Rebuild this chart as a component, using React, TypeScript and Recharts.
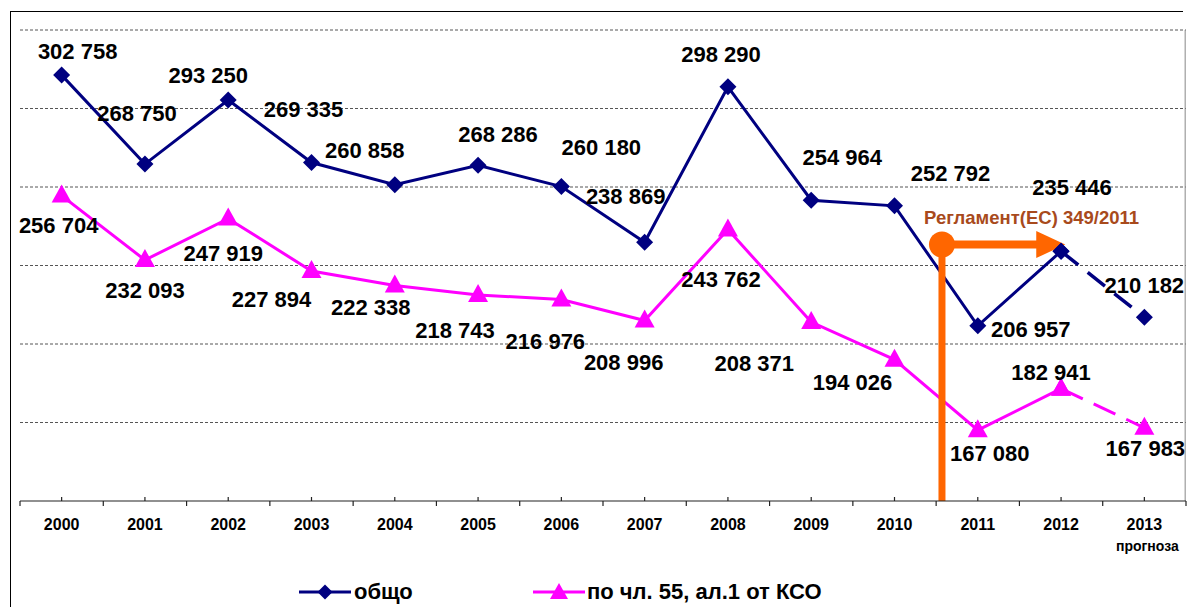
import React from "react";
import { LineChart, Line, XAxis, YAxis, ReferenceLine, ReferenceDot } from "recharts";

// values
const years = [2000, 2001, 2002, 2003, 2004, 2005, 2006, 2007, 2008, 2009, 2010, 2011, 2012, 2013];
const totalValues = [302758, 268750, 293250, 269335, 260858, 268286, 260180, 238869, 298290, 254964, 252792, 206957, 235446, 210182];
const art55Values = [256704, 232093, 247919, 227894, 222338, 218743, 216976, 208996, 243762, 208371, 194026, 167080, 182941, 167983];
const seriesNames = ["общо", "по чл. 55, ал.1 от КСО"];
const lastActualYear = 2012;
const forecastNote = "прогноза";
const yTicks = [140000, 170000, 200000, 230000, 260000, 290000, 320000];

const regulationText = "Регламент(ЕС) 349/2011";
const regulationYear = 2010.57;
const regulationLevel = 238000;
const regulationArrowTo = 2012.05;

// label placement (dx, dy from the point), styling only
const totalLabelOffsets = [
  [16, -24], [-8, -51], [-20, -24], [-8, -53], [-30, -34], [20, -31], [40, -39],
  [-19, -46], [-7, -32], [31, -43], [56, -32], [53, 4], [11, -64], [0, -32],
];
const art55LabelOffsets = [
  [-3, 30], [0, 30], [-5, 35], [-40, 28], [-24, 22], [-23, 36], [-16, 42],
  [-21, 42], [-7, 50], [-57, 41], [-42, 23], [12, 23], [-10, -16], [1, 21],
];

const NAVY = "#000080";
const PINK = "#FF00FF";
const ORANGE = "#FF6600";
const FONT = "'Liberation Sans', Arial, sans-serif";

const data = years.map((year, i) => ({
  year,
  total: year <= lastActualYear ? totalValues[i] : null,
  totalForecast: year >= lastActualYear ? totalValues[i] : null,
  art55: year <= lastActualYear ? art55Values[i] : null,
  art55Forecast: year >= lastActualYear ? art55Values[i] : null,
}));

const xTicks = [...years.map((y) => y - 0.5), ...years, years[years.length - 1] + 0.5].sort((a, b) => a - b);

const fmt = (v: number) => String(v).replace(/\B(?=(\d{3})+(?!\d))/g, " ");

const diamondDot = (props: any) => {
  const { cx, cy, index, value } = props;
  if (value == null || cx == null || cy == null) return <g key={`d${index}`} />;
  const r = 8.5;
  return (
    <polygon key={`d${index}`} points={`${cx},${cy - r} ${cx + r},${cy} ${cx},${cy + r} ${cx - r},${cy}`} fill={NAVY} />
  );
};

const triangleDot = (props: any) => {
  const { cx, cy, index, value } = props;
  if (value == null || cx == null || cy == null) return <g key={`t${index}`} />;
  return (
    <polygon key={`t${index}`} points={`${cx},${cy - 11} ${cx + 10},${cy + 7} ${cx - 10},${cy + 7}`} fill={PINK} />
  );
};

const makeLabel = (offsets: number[][], onlyForecast: boolean) => (props: any) => {
  const { x, y, index, value } = props;
  if (value == null || x == null || y == null) return null;
  if (onlyForecast && years[index] <= lastActualYear) return null;
  const [dx, dy] = offsets[index];
  return (
    <text
      key={`l${index}`}
      x={x + dx}
      y={y + dy}
      textAnchor="middle"
      dominantBaseline="central"
      fontFamily={FONT}
      fontWeight="bold"
      fontSize={22}
      fill="#000"
    >
      {fmt(value)}
    </text>
  );
};

const YearTick = (props: any) => {
  const { x, y, payload } = props;
  const v = payload.value;
  if (!Number.isInteger(v)) {
    return <line x1={x} y1={y} x2={x} y2={y + 5} stroke="#222" strokeWidth={1.2} />;
  }
  return (
    <g>
      <line x1={x} y1={y} x2={x} y2={y - 4} stroke="#222" strokeWidth={1.2} />
      <text x={x} y={y + 23} textAnchor="middle" dominantBaseline="central" fontFamily={FONT} fontWeight="bold" fontSize={16} fill="#000">
        {v}
      </text>
      {v === years[years.length - 1] && (
        <text x={x + 3} y={y + 45} textAnchor="middle" dominantBaseline="central" fontFamily={FONT} fontWeight="bold" fontSize={14} fill="#000">
          {forecastNote}
        </text>
      )}
    </g>
  );
};

const ArrowShape = (props: any) => {
  const { x1, y1, x2, y2 } = props;
  return (
    <g>
      <line x1={x1} y1={y1} x2={x2 - 26} y2={y2} stroke={ORANGE} strokeWidth={8} />
      <polygon points={`${x2 - 29},${y2 - 13.5} ${x2},${y2} ${x2 - 29},${y2 + 13.5}`} fill={ORANGE} />
      <text
        x={(x1 + x2) / 2 + 28}
        y={y1 - 27}
        textAnchor="middle"
        dominantBaseline="central"
        fontFamily={FONT}
        fontWeight="bold"
        fontSize={18.5}
        fill="#A84A1C"
      >
        {regulationText}
      </text>
    </g>
  );
};

const LegendItem = ({ left, textLeft, color, marker, name }: any) => (
  <>
    <svg style={{ position: "absolute", left, top: 580 }} width={54} height={24}>
      <line x1={0} y1={12} x2={52} y2={12} stroke={color} strokeWidth={3} />
      {marker === "diamond" ? (
        <polygon points="26,4.5 33.5,12 26,19.5 18.5,12" fill={color} />
      ) : (
        <polygon points="26,3 35,19 17,19" fill={color} />
      )}
    </svg>
    <div
      style={{
        position: "absolute",
        left: textLeft,
        top: 579,
        fontFamily: FONT,
        fontWeight: "bold",
        fontSize: 22,
        lineHeight: "26px",
        whiteSpace: "nowrap",
        color: "#000",
      }}
    >
      {name}
    </div>
  </>
);

export default function App() {
  return (
    <div style={{ position: "fixed", left: 0, top: 0, width: 1187, height: 607, overflow: "hidden", background: "#fff" }}>
      <div
        style={{
          position: "absolute",
          left: 10,
          top: 11,
          width: 1172,
          height: 700,
          borderLeft: "1.5px solid #000",
          borderTop: "1.5px solid #000",
        }}
      />
      <div style={{ position: "absolute", left: 0, top: 0 }}>
        <LineChart width={1187} height={607} data={data} margin={{ top: 30, right: 1, bottom: 0, left: 20 }}>
          {yTicks.slice(1).map((v) => (
            <ReferenceLine key={v} y={v} stroke="#555" strokeDasharray="3 2" ifOverflow="visible" />
          ))}
          <ReferenceLine x={years[years.length - 1] + 0.49} stroke="#888" ifOverflow="visible" />
          <XAxis
            type="number"
            dataKey="year"
            domain={[years[0] - 0.5, years[years.length - 1] + 0.5]}
            ticks={xTicks}
            interval={0}
            tickLine={false}
            tickSize={0}
            tickMargin={0}
            height={106}
            axisLine={{ stroke: "#222", strokeWidth: 1.2 }}
            tick={(p: any) => <YearTick {...p} />}
          />
          <YAxis
            type="number"
            domain={[yTicks[0], yTicks[yTicks.length - 1]]}
            ticks={yTicks}
            width={0}
            tick={false}
            tickLine={false}
            axisLine={{ stroke: "#777" }}
          />
          <Line
            type="linear"
            dataKey="total"
            stroke={NAVY}
            strokeWidth={3}
            dot={diamondDot}
            activeDot={false}
            label={makeLabel(totalLabelOffsets, false)}
            isAnimationActive={false}
          />
          <Line
            type="linear"
            dataKey="totalForecast"
            stroke={NAVY}
            strokeWidth={3.5}
            strokeDasharray="22 12"
            dot={diamondDot}
            activeDot={false}
            label={makeLabel(totalLabelOffsets, true)}
            isAnimationActive={false}
          />
          <Line
            type="linear"
            dataKey="art55"
            stroke={PINK}
            strokeWidth={3}
            dot={triangleDot}
            activeDot={false}
            label={makeLabel(art55LabelOffsets, false)}
            isAnimationActive={false}
          />
          <Line
            type="linear"
            dataKey="art55Forecast"
            stroke={PINK}
            strokeWidth={3}
            strokeDasharray="24 12"
            dot={triangleDot}
            activeDot={false}
            label={makeLabel(art55LabelOffsets, true)}
            isAnimationActive={false}
          />
          <ReferenceLine
            segment={[
              { x: regulationYear, y: yTicks[0] },
              { x: regulationYear, y: regulationLevel },
            ]}
            stroke={ORANGE}
            strokeWidth={7}
          />
          <ReferenceLine
            segment={[
              { x: regulationYear, y: regulationLevel },
              { x: regulationArrowTo, y: regulationLevel },
            ]}
            shape={(p: any) => <ArrowShape {...p} />}
          />
          <ReferenceDot x={regulationYear} y={regulationLevel} r={13} fill={ORANGE} stroke="none" />
        </LineChart>
      </div>
      <LegendItem left={299} textLeft={354} color={NAVY} marker="diamond" name={seriesNames[0]} />
      <LegendItem left={533} textLeft={587} color={PINK} marker="triangle" name={seriesNames[1]} />
    </div>
  );
}
